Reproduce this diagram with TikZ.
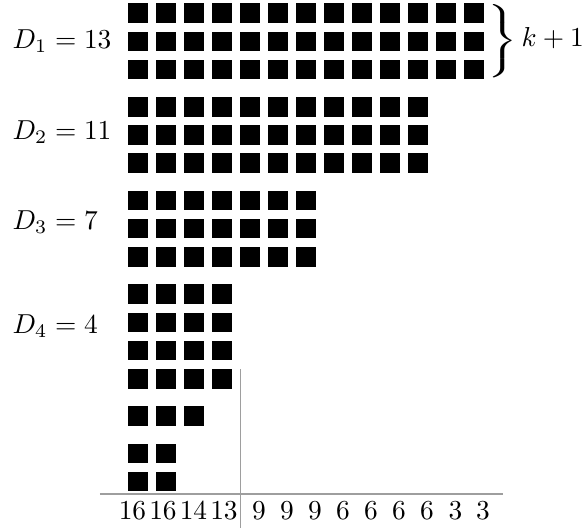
\documentclass[tikz,border=0pt]{standalone}
\usepackage{graphicx}
\begin{document}
\begin{tikzpicture}[x={(0.3649pt,0pt)}, y={(0pt,-0.3649pt)}]
\tikzset{
  sq/.style={fill=black},
  lab/.style={inner sep=0pt, anchor=base west},
  num/.style={inner sep=0pt, anchor=base},
  axisrule/.style={draw=black!38, line width=0.4pt}
}
\useasboundingbox (0,0) rectangle (587,528);
% blocks of squares: top y / number of squares in the row
\foreach \y/\n in {3.3/13, 31.5/13, 59.7/13,
                   97.0/11, 125.2/11, 153.4/11,
                   190.7/7, 218.9/7, 247.1/7,
                   284.4/4, 312.6/4, 340.8/4, 369.0/4,
                   406.3/3,
                   443.6/2, 471.8/2}{
  \foreach \i in {1,...,\n}{
    \fill[sq] ({128.3+28*(\i-1)},\y) rectangle ++(19.5,19.5);
  }
}
% labels
\node[lab] (d1) at (12,48.5) {$D_1 = 13$};
\node[lab] (d2) at (12,139) {$D_2 = 11$};
\node[lab] (d3) at (12,229.5) {$D_3 = 7$};
\node[lab] (d4) at (12,333) {$D_4 = 4$};
% brace
\node[inner sep=0pt] (br) at (502.5,40.8)
  {\delimiterfactor=1000 \delimitershortfall=0pt
   \resizebox*{1.25\width}{26.8pt}{$\kern-\nulldelimiterspace\left.\vcenter{\hbox{\rule{0pt}{31pt}}}\right\}$}};
\node[lab] (k) at (521,46) {$k+1$};
% axes
\coordinate (h1) at (100,494);
\coordinate (h2) at (503,494);
\coordinate (v1) at (240.7,369);
\coordinate (v2) at (240.7,528);
\draw[axisrule] (h1) -- (h2);
\draw[axisrule] (v1) -- (v2);
% numbers
\foreach \x/\t [count=\c] in {132.5/16, 163/16, 193.5/14, 224/13,
    259/9, 287/9, 315/9, 343/6, 371/6, 399/6, 427/6, 455.5/3, 483/3}{
  \node[num] (n\c) at (\x,519) {\t};
}
\end{tikzpicture}
\end{document}
